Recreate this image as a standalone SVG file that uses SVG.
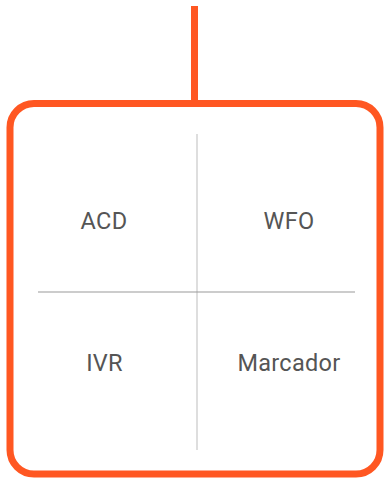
<svg xmlns="http://www.w3.org/2000/svg" width="384" height="480" viewBox="0 0 384 480">
<style>
.lbl{font-family:Roboto,"Liberation Sans",sans-serif;font-size:23.5px;fill:#555;text-anchor:middle;letter-spacing:0.3px}
</style>
<rect width="384" height="480" fill="#fff"/>
<g id="connectors">
<line x1="194.5" y1="6" x2="194.5" y2="103" stroke="#FF5722" stroke-width="7"/>
</g>
<g id="frame">
<rect x="10" y="103.5" width="370" height="370.5" rx="24" fill="none" stroke="#FF5722" stroke-width="7"/>
<line x1="197" y1="134" x2="197" y2="450" stroke="#c8c8c8" stroke-width="1.2"/>
<line x1="38" y1="292" x2="355" y2="292" stroke="#999" stroke-width="1"/>
</g>
<g id="acd"><text class="lbl" x="104" y="228.5">ACD</text></g>
<g id="wfo"><text class="lbl" x="289" y="228.5">WFO</text></g>
<g id="ivr"><text class="lbl" x="104.5" y="371">IVR</text></g>
<g id="marcador"><text class="lbl" x="289" y="371">Marcador</text></g>
</svg>
